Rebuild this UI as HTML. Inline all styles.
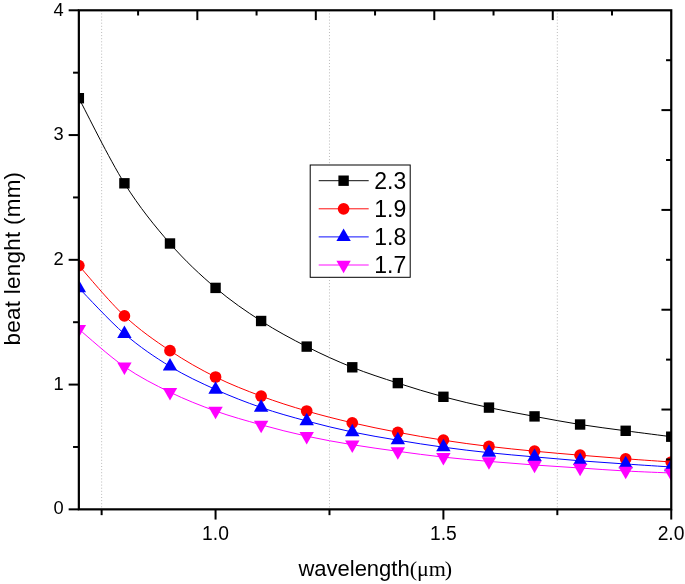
<!DOCTYPE html>
<html><head><meta charset="utf-8"><title>beat length vs wavelength</title>
<style>html,body{margin:0;padding:0;background:#fff}svg{display:block}text{font-family:"Liberation Sans",Arial,sans-serif;fill:#000}.s{font-family:"Liberation Serif","Times New Roman",serif}</style></head><body>
<svg width="685" height="584" viewBox="0 0 685 584">
<rect width="685" height="584" fill="#fff"/>
<defs><clipPath id="c"><rect x="78.85" y="10.3" width="592.4" height="499.05"/></clipPath></defs>
<line x1="101.63" y1="10.3" x2="101.63" y2="509.35" stroke="#a8a8a8" stroke-width="0.8" stroke-dasharray="1 2.1"/>
<line x1="329.48" y1="10.3" x2="329.48" y2="509.35" stroke="#a8a8a8" stroke-width="0.8" stroke-dasharray="1 2.1"/>
<line x1="557.33" y1="10.3" x2="557.33" y2="509.35" stroke="#a8a8a8" stroke-width="0.8" stroke-dasharray="1 2.1"/>
<g clip-path="url(#c)">
<path d="M78.85 98.2 C86.44 112.38 109.23 159.08 124.42 183.3 C139.61 207.52 154.8 226.07 169.99 243.5 C185.18 260.93 200.37 274.98 215.56 287.9 C230.75 300.82 245.94 311.22 261.13 321 C276.32 330.78 291.51 338.88 306.7 346.6 C321.89 354.32 337.08 361.22 352.27 367.3 C367.46 373.38 382.64 378.18 397.83 383.1 C413.02 388.02 428.21 392.72 443.4 396.8 C458.59 400.88 473.78 404.33 488.97 407.6 C504.16 410.87 519.35 413.58 534.54 416.4 C549.73 419.22 564.92 422.1 580.11 424.5 C595.3 426.9 610.49 428.77 625.68 430.8 C640.87 432.83 663.66 435.72 671.25 436.7" fill="none" stroke="#000000" stroke-width="1"/>
<rect x="73.65" y="93" width="10.4" height="10.4" fill="#000000"/>
<rect x="119.22" y="178.1" width="10.4" height="10.4" fill="#000000"/>
<rect x="164.79" y="238.3" width="10.4" height="10.4" fill="#000000"/>
<rect x="210.36" y="282.7" width="10.4" height="10.4" fill="#000000"/>
<rect x="255.93" y="315.8" width="10.4" height="10.4" fill="#000000"/>
<rect x="301.5" y="341.4" width="10.4" height="10.4" fill="#000000"/>
<rect x="347.07" y="362.1" width="10.4" height="10.4" fill="#000000"/>
<rect x="392.63" y="377.9" width="10.4" height="10.4" fill="#000000"/>
<rect x="438.2" y="391.6" width="10.4" height="10.4" fill="#000000"/>
<rect x="483.77" y="402.4" width="10.4" height="10.4" fill="#000000"/>
<rect x="529.34" y="411.2" width="10.4" height="10.4" fill="#000000"/>
<rect x="574.91" y="419.3" width="10.4" height="10.4" fill="#000000"/>
<rect x="620.48" y="425.6" width="10.4" height="10.4" fill="#000000"/>
<rect x="666.05" y="431.5" width="10.4" height="10.4" fill="#000000"/>
<path d="M78.85 265.6 C86.44 273.98 109.23 301.72 124.42 315.9 C139.61 330.08 154.8 340.52 169.99 350.7 C185.18 360.88 200.37 369.43 215.56 377 C230.75 384.57 245.94 390.43 261.13 396.1 C276.32 401.77 291.51 406.55 306.7 411 C321.89 415.45 337.08 419.25 352.27 422.8 C367.46 426.35 382.64 429.4 397.83 432.3 C413.02 435.2 428.21 437.85 443.4 440.2 C458.59 442.55 473.78 444.57 488.97 446.4 C504.16 448.23 519.35 449.73 534.54 451.2 C549.73 452.67 564.92 453.93 580.11 455.2 C595.3 456.47 610.49 457.67 625.68 458.8 C640.87 459.93 663.66 461.47 671.25 462" fill="none" stroke="#ff0000" stroke-width="1"/>
<circle cx="78.85" cy="265.6" r="5.85" fill="#ff0000"/>
<circle cx="124.42" cy="315.9" r="5.85" fill="#ff0000"/>
<circle cx="169.99" cy="350.7" r="5.85" fill="#ff0000"/>
<circle cx="215.56" cy="377" r="5.85" fill="#ff0000"/>
<circle cx="261.13" cy="396.1" r="5.85" fill="#ff0000"/>
<circle cx="306.7" cy="411" r="5.85" fill="#ff0000"/>
<circle cx="352.27" cy="422.8" r="5.85" fill="#ff0000"/>
<circle cx="397.83" cy="432.3" r="5.85" fill="#ff0000"/>
<circle cx="443.4" cy="440.2" r="5.85" fill="#ff0000"/>
<circle cx="488.97" cy="446.4" r="5.85" fill="#ff0000"/>
<circle cx="534.54" cy="451.2" r="5.85" fill="#ff0000"/>
<circle cx="580.11" cy="455.2" r="5.85" fill="#ff0000"/>
<circle cx="625.68" cy="458.8" r="5.85" fill="#ff0000"/>
<circle cx="671.25" cy="462" r="5.85" fill="#ff0000"/>
<path d="M78.85 288 C86.44 295.63 109.23 320.73 124.42 333.8 C139.61 346.87 154.8 357.12 169.99 366.4 C185.18 375.68 200.37 382.65 215.56 389.5 C230.75 396.35 245.94 402.25 261.13 407.5 C276.32 412.75 291.51 416.92 306.7 421 C321.89 425.08 337.08 428.8 352.27 432 C367.46 435.2 382.64 437.67 397.83 440.2 C413.02 442.73 428.21 445.12 443.4 447.2 C458.59 449.28 473.78 451.08 488.97 452.7 C504.16 454.32 519.35 455.55 534.54 456.9 C549.73 458.25 564.92 459.62 580.11 460.8 C595.3 461.98 610.49 462.97 625.68 464 C640.87 465.03 663.66 466.5 671.25 467" fill="none" stroke="#0000ff" stroke-width="1"/>
<polygon points="78.85,279.67 71.65,292.17 86.05,292.17" fill="#0000ff"/>
<polygon points="124.42,325.47 117.22,337.97 131.62,337.97" fill="#0000ff"/>
<polygon points="169.99,358.07 162.79,370.57 177.19,370.57" fill="#0000ff"/>
<polygon points="215.56,381.17 208.36,393.67 222.76,393.67" fill="#0000ff"/>
<polygon points="261.13,399.17 253.93,411.67 268.33,411.67" fill="#0000ff"/>
<polygon points="306.7,412.67 299.5,425.17 313.9,425.17" fill="#0000ff"/>
<polygon points="352.27,423.67 345.07,436.17 359.47,436.17" fill="#0000ff"/>
<polygon points="397.83,431.87 390.63,444.37 405.03,444.37" fill="#0000ff"/>
<polygon points="443.4,438.87 436.2,451.37 450.6,451.37" fill="#0000ff"/>
<polygon points="488.97,444.37 481.77,456.87 496.17,456.87" fill="#0000ff"/>
<polygon points="534.54,448.57 527.34,461.07 541.74,461.07" fill="#0000ff"/>
<polygon points="580.11,452.47 572.91,464.97 587.31,464.97" fill="#0000ff"/>
<polygon points="625.68,455.67 618.48,468.17 632.88,468.17" fill="#0000ff"/>
<polygon points="671.25,458.67 664.05,471.17 678.45,471.17" fill="#0000ff"/>
<path d="M78.85 329.2 C86.44 335.45 109.23 356.2 124.42 366.7 C139.61 377.2 154.8 384.82 169.99 392.2 C185.18 399.58 200.37 405.57 215.56 411 C230.75 416.43 245.94 420.6 261.13 424.8 C276.32 429 291.51 432.88 306.7 436.2 C321.89 439.52 337.08 442.18 352.27 444.7 C367.46 447.22 382.64 449.23 397.83 451.3 C413.02 453.37 428.21 455.42 443.4 457.1 C458.59 458.78 473.78 460.08 488.97 461.4 C504.16 462.72 519.35 463.9 534.54 465 C549.73 466.1 564.92 467 580.11 468 C595.3 469 610.49 470.17 625.68 471 C640.87 471.83 663.66 472.67 671.25 473" fill="none" stroke="#ff00ff" stroke-width="1"/>
<polygon points="78.85,337.53 71.65,325.03 86.05,325.03" fill="#ff00ff"/>
<polygon points="124.42,375.03 117.22,362.53 131.62,362.53" fill="#ff00ff"/>
<polygon points="169.99,400.53 162.79,388.03 177.19,388.03" fill="#ff00ff"/>
<polygon points="215.56,419.33 208.36,406.83 222.76,406.83" fill="#ff00ff"/>
<polygon points="261.13,433.13 253.93,420.63 268.33,420.63" fill="#ff00ff"/>
<polygon points="306.7,444.53 299.5,432.03 313.9,432.03" fill="#ff00ff"/>
<polygon points="352.27,453.03 345.07,440.53 359.47,440.53" fill="#ff00ff"/>
<polygon points="397.83,459.63 390.63,447.13 405.03,447.13" fill="#ff00ff"/>
<polygon points="443.4,465.43 436.2,452.93 450.6,452.93" fill="#ff00ff"/>
<polygon points="488.97,469.73 481.77,457.23 496.17,457.23" fill="#ff00ff"/>
<polygon points="534.54,473.33 527.34,460.83 541.74,460.83" fill="#ff00ff"/>
<polygon points="580.11,476.33 572.91,463.83 587.31,463.83" fill="#ff00ff"/>
<polygon points="625.68,479.33 618.48,466.83 632.88,466.83" fill="#ff00ff"/>
<polygon points="671.25,481.33 664.05,468.83 678.45,468.83" fill="#ff00ff"/>
</g>
<g stroke="#000" stroke-width="2.2" fill="none">
<rect x="78.85" y="10.3" width="592.4" height="499.05"/>
</g>
<g stroke="#000" stroke-width="2" fill="none">
<line x1="215.56" y1="509.35" x2="215.56" y2="519.55"/>
<line x1="443.4" y1="509.35" x2="443.4" y2="519.55"/>
<line x1="671.25" y1="509.35" x2="671.25" y2="519.55"/>
<line x1="101.63" y1="509.35" x2="101.63" y2="515.15"/>
<line x1="329.48" y1="509.35" x2="329.48" y2="515.15"/>
<line x1="557.33" y1="509.35" x2="557.33" y2="515.15"/>
<line x1="78.85" y1="509.35" x2="68.65" y2="509.35"/>
<line x1="78.85" y1="384.59" x2="68.65" y2="384.59"/>
<line x1="78.85" y1="259.83" x2="68.65" y2="259.83"/>
<line x1="78.85" y1="135.06" x2="68.65" y2="135.06"/>
<line x1="78.85" y1="10.3" x2="68.65" y2="10.3"/>
<line x1="78.85" y1="446.97" x2="73.05" y2="446.97"/>
<line x1="78.85" y1="322.21" x2="73.05" y2="322.21"/>
<line x1="78.85" y1="197.44" x2="73.05" y2="197.44"/>
<line x1="78.85" y1="72.68" x2="73.05" y2="72.68"/>
<line x1="138.09" y1="10.3" x2="138.09" y2="15.5"/>
<line x1="197.33" y1="10.3" x2="197.33" y2="20.1"/>
<line x1="256.57" y1="10.3" x2="256.57" y2="15.5"/>
<line x1="315.81" y1="10.3" x2="315.81" y2="20.1"/>
<line x1="375.05" y1="10.3" x2="375.05" y2="15.5"/>
<line x1="434.29" y1="10.3" x2="434.29" y2="20.1"/>
<line x1="493.53" y1="10.3" x2="493.53" y2="15.5"/>
<line x1="552.77" y1="10.3" x2="552.77" y2="20.1"/>
<line x1="612.01" y1="10.3" x2="612.01" y2="15.5"/>
<line x1="671.25" y1="60.2" x2="666.05" y2="60.2"/>
<line x1="671.25" y1="110.11" x2="661.45" y2="110.11"/>
<line x1="671.25" y1="160.02" x2="666.05" y2="160.02"/>
<line x1="671.25" y1="209.92" x2="661.45" y2="209.92"/>
<line x1="671.25" y1="259.82" x2="666.05" y2="259.82"/>
<line x1="671.25" y1="309.73" x2="661.45" y2="309.73"/>
<line x1="671.25" y1="359.63" x2="666.05" y2="359.63"/>
<line x1="671.25" y1="409.54" x2="661.45" y2="409.54"/>
<line x1="671.25" y1="459.44" x2="666.05" y2="459.44"/>
</g>
<g font-size="18.3">
<text x="215.46" y="539.8" text-anchor="middle" font-size="19.3">1.0</text>
<text x="443.4" y="539.8" text-anchor="middle" font-size="19.3">1.5</text>
<text x="671.05" y="539.8" text-anchor="middle" font-size="19.3">2.0</text>
<text x="63.6" y="514.05" text-anchor="end">0</text>
<text x="63.6" y="389.79" text-anchor="end">1</text>
<text x="63.6" y="265.03" text-anchor="end">2</text>
<text x="63.6" y="140.26" text-anchor="end">3</text>
<text x="63.6" y="15.5" text-anchor="end">4</text>
</g>
<text x="298.4" y="575.6" font-size="22">wavelength<tspan class="s" font-size="22">(μm<tspan dx="-1.1">)</tspan></tspan></text>
<text transform="translate(19.5,345.4) rotate(-90)" font-size="22.4" letter-spacing="0.28">beat lenght (mm)</text>
<rect x="310.2" y="165" width="100" height="112.3" fill="#fff" stroke="#000" stroke-width="1"/>
<line x1="318.7" y1="180.7" x2="368.7" y2="180.7" stroke="#000000" stroke-width="0.95"/>
<rect x="338.4" y="175.5" width="10.4" height="10.4" fill="#000000"/>
<text x="374.3" y="188.5" font-size="23">2.3</text>
<line x1="318.7" y1="208.8" x2="368.7" y2="208.8" stroke="#ff0000" stroke-width="0.95"/>
<circle cx="343.6" cy="208.8" r="5.85" fill="#ff0000"/>
<text x="374.3" y="216.6" font-size="23">1.9</text>
<line x1="318.7" y1="236.9" x2="368.7" y2="236.9" stroke="#0000ff" stroke-width="0.95"/>
<polygon points="343.6,228.57 336.4,241.07 350.8,241.07" fill="#0000ff"/>
<text x="374.3" y="244.7" font-size="23">1.8</text>
<line x1="318.7" y1="265" x2="368.7" y2="265" stroke="#ff00ff" stroke-width="0.95"/>
<polygon points="343.6,273.33 336.4,260.83 350.8,260.83" fill="#ff00ff"/>
<text x="374.3" y="272.8" font-size="23">1.7</text>
</svg></body></html>
